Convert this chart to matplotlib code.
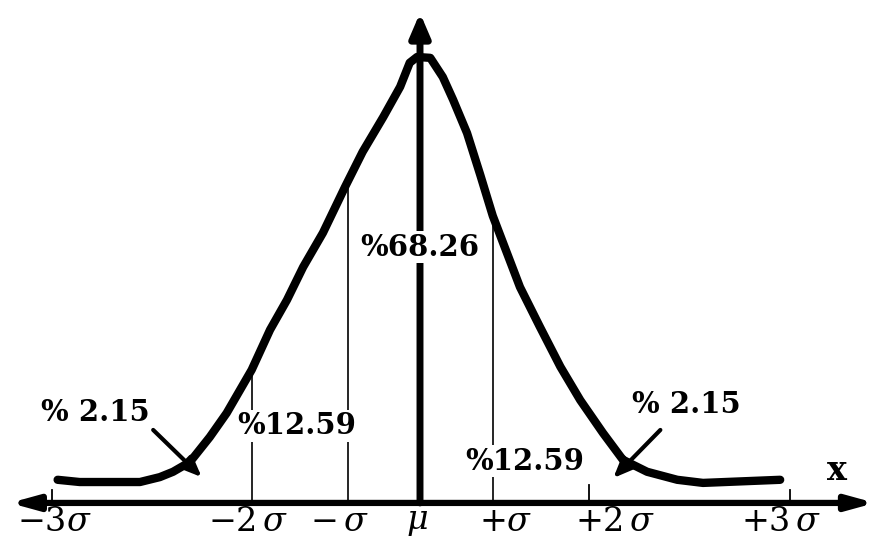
import numpy as np
import matplotlib.pyplot as plt
from matplotlib.patches import ArrowStyle

plt.rcParams['mathtext.fontset'] = 'dejavuserif'

# bell curve traced point by point: x in sigma units from the mean, height relative to the peak
curve_x = [-4.93, -4.63, -3.81, -3.54, -3.36, -3.13, -2.86, -2.63, -2.29, -2.04,
           -1.81, -1.59, -1.32, -1.02, -0.78, -0.50, -0.27, -0.14, -0.04, 0.14,
           0.31, 0.45, 0.64, 0.82, 0.99, 1.36, 1.63, 1.91, 2.18,
           2.49, 2.76, 3.09, 3.50, 3.85, 4.90]
curve_y = [0.052, 0.047, 0.047, 0.058, 0.070, 0.092, 0.148, 0.202, 0.299, 0.389,
           0.456, 0.530, 0.607, 0.710, 0.789, 0.867, 0.935, 0.989, 1.002, 1.000,
           0.957, 0.906, 0.831, 0.737, 0.645, 0.485, 0.396, 0.306, 0.231,
           0.157, 0.097, 0.070, 0.052, 0.045, 0.052]

# positions of the sigma marks on the x axis
tick_pos = [-5.01, -2.29, -0.98, 0.0, 0.99, 2.30, 5.03]
tick_labels = [r'$-3\sigma$', r'$-2\,\sigma$', r'$-\,\sigma$', r'$\mu$',
               r'$+\sigma$', r'$+2\,\sigma$', r'$+3\,\sigma$']
label_x = [-4.97, -2.34, -1.09, -0.04, 1.16, 2.65, 4.91]

area_labels = ['%68.26', '%12.59', '%12.59', '% 2.15', '% 2.15']

fig = plt.figure(figsize=(8.78, 5.47), dpi=100)
ax = fig.add_axes([0, 0, 1, 1])
ax.set_xlim(-5.714, 6.231)
ax.set_ylim(-0.099, 1.130)
ax.axis('off')

# x axis, arrow at both ends
ax.annotate('', xy=(6.19, 0), xytext=(-5.58, 0),
            arrowprops=dict(arrowstyle=ArrowStyle('<|-|>', head_length=0.8, head_width=0.22),
                            mutation_scale=20, lw=4.5, color='black',
                            shrinkA=0, shrinkB=0), zorder=3)
# vertical axis through the mean
ax.annotate('', xy=(0, 1.101), xytext=(0, 0),
            arrowprops=dict(arrowstyle=ArrowStyle('-|>', head_length=0.7, head_width=0.3),
                            mutation_scale=20, lw=5, color='black',
                            shrinkA=0, shrinkB=0), zorder=3)

# thin verticals up to the curve at -2s, -s, +s
for xv in [tick_pos[1], tick_pos[2], tick_pos[4]]:
    top = np.interp(xv, curve_x, curve_y)
    ax.plot([xv, xv], [0, top], color='black', lw=1.2, zorder=2)
# short ticks at -3s, +2s, +3s
for xv, h in [(tick_pos[0], 0.03), (tick_pos[5], 0.04), (tick_pos[6], 0.03)]:
    ax.plot([xv, xv], [0, h], color='black', lw=1.3, zorder=2)

ax.plot(curve_x, curve_y, color='black', lw=6, solid_capstyle='round',
        solid_joinstyle='round', zorder=5)

for xl, lab in zip(label_x, tick_labels):
    ax.text(xl, -0.042, lab, ha='center', va='center', fontsize=24, color='black')

box = dict(facecolor='white', edgecolor='none', pad=1)
txt = dict(ha='center', va='center', fontsize=21, fontweight='bold',
           family='DejaVu Serif', color='black', zorder=4)
ax.text(0.0, 0.575, area_labels[0], bbox=box, **txt)
ax.text(-1.67, 0.173, area_labels[1], bbox=box, **txt)
ax.text(1.43, 0.094, area_labels[2], bbox=box, **txt)
ax.text(-4.41, 0.204, area_labels[3], **txt)
ax.text(3.63, 0.222, area_labels[4], **txt)
ax.text(5.67, 0.072, 'x', **dict(txt, fontsize=24))

# pointers from the tail labels to the curve
pointer = dict(arrowstyle=ArrowStyle('-|>', head_length=0.6, head_width=0.25),
               mutation_scale=20, lw=3, color='black', shrinkA=0, shrinkB=0)
ax.annotate('', xy=(-2.97, 0.058), xytext=(-3.63, 0.164), arrowprops=pointer, zorder=5)
ax.annotate('', xy=(2.63, 0.056), xytext=(3.27, 0.164), arrowprops=pointer, zorder=5)

fig.savefig('out.png', dpi=100)
